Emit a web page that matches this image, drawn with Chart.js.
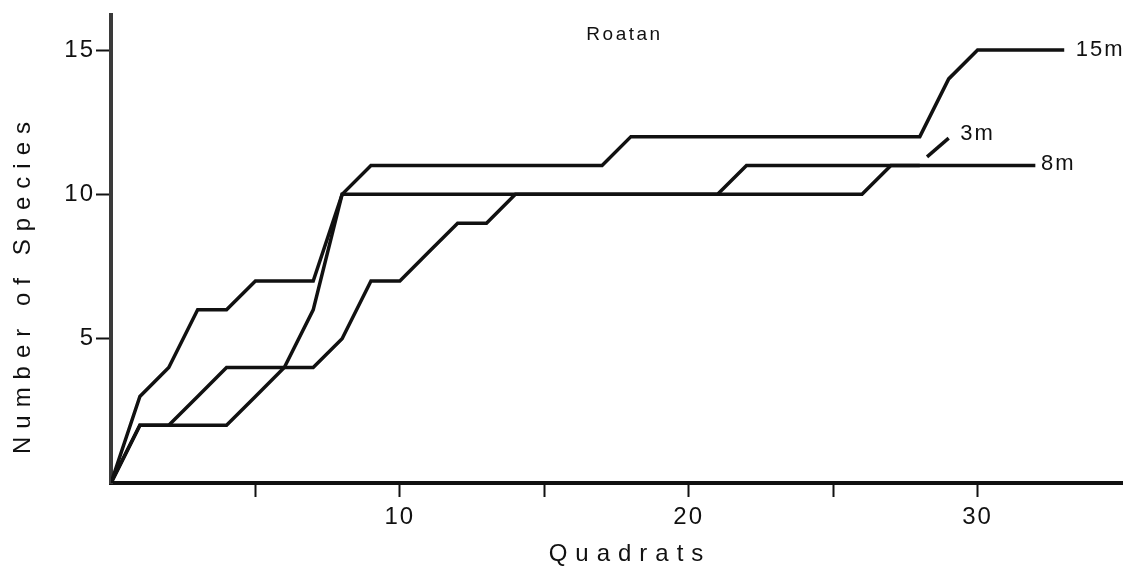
<!DOCTYPE html>
<html>
<head>
<meta charset="utf-8">
<script src="https://cdn.jsdelivr.net/npm/chart.js@4.4.1/dist/chart.umd.min.js"></script>
<style>
  html, body { margin: 0; padding: 0; background: #fff; }
  #wrap { width: 1144px; height: 572px; }
</style>
</head>
<body>
<div id="wrap"><canvas id="speciesChart"></canvas></div>
<script>
// quadrat number and cumulative species count
const quadrats = [0,1,2,3,4,5,6,7,8,9,10,11,12,13,14,15,16,17,18,19,20,21,22,23,24,25,26,27,28,29,30,31,32,33];
const species15m = [0,3,4,6,6,7,7,7,10,11,11,11,11,11,11,11,11,11,12,12,12,12,12,12,12,12,12,12,12,14,15,15,15,15];
const species8m  = [0,2,2,2,2,3,4,6,10,10,10,10,10,10,10,10,10,10,10,10,10,10,11,11,11,11,11,11,11,11,11,11,11,null];
const species3m  = [0,2,2,3,4,4,4,4,5,7,7,8,9,9,10,10,10,10,10,10,10,10,10,10,10,10,10,11,11,null,null,null,null,null];

const seriesLabels = ["15m", "8m", "3m"];
const labelAt = [[33.4, 15], [32.2, 11.05], [29.4, 12.1]];   // where each series name sits
const leaderX = [28.25, 29.0];  // short pointer line for "3m"
const leaderY = [11.3, 11.95];

const xTickLabels = [10, 20, 30];
const yTickLabels = [5, 10, 15];

const ink = "#111";
const fontFam = "'Liberation Sans', Arial, sans-serif";

function toPoints(ys) {
  const pts = [];
  ys.forEach((y, i) => { if (y !== null) pts.push({ x: quadrats[i], y: y }); });
  return pts;
}

const lineStyle = { borderColor: ink, borderWidth: 3.5, pointRadius: 0, tension: 0, fill: false };

const textPlugin = {
  id: "textPlugin",
  beforeDraw(chart) {
    chart.ctx.letterSpacing = "2px";
  },
  afterDatasetsDraw(chart) {
    const ctx = chart.ctx;
    const xs = chart.scales.x, ys = chart.scales.y;
    const area = chart.chartArea;
    ctx.save();
    ctx.fillStyle = ink;
    ctx.textBaseline = "middle";

    // series names
    ctx.font = "22px " + fontFam;
    ctx.letterSpacing = "2px";
    ctx.textAlign = "left";
    seriesLabels.forEach((s, i) => {
      ctx.fillText(s, xs.getPixelForValue(labelAt[i][0]), ys.getPixelForValue(labelAt[i][1]));
    });

    // panel title
    ctx.font = "19px " + fontFam;
    ctx.letterSpacing = "2.5px";
    ctx.textAlign = "center";
    ctx.fillText("Roatan", (area.left + area.right) / 2 + 8, area.top + 19);

    // axis titles
    ctx.font = "24px " + fontFam;
    ctx.letterSpacing = "8px";
    ctx.fillText("Quadrats", 630, 554);
    ctx.translate(23, 284);
    ctx.rotate(-Math.PI / 2);
    ctx.fillText("Number of Species", 0, 0);
    ctx.restore();
  }
};

new Chart(document.getElementById("speciesChart"), {
  type: "line",
  data: {
    datasets: [
      { label: "15m", data: toPoints(species15m), ...lineStyle },
      { label: "8m", data: toPoints(species8m), ...lineStyle },
      { label: "3m", data: toPoints(species3m), ...lineStyle },
      { label: "pointer", data: leaderX.map((x, i) => ({ x: x, y: leaderY[i] })), ...lineStyle }
    ]
  },
  options: {
    responsive: true,
    maintainAspectRatio: false,
    animation: false,
    layout: { padding: { left: 0, right: 22, top: 13, bottom: 0 } },
    plugins: { legend: { display: false }, tooltip: { enabled: false } },
    scales: {
      x: {
        type: "linear",
        min: 0,
        max: 35,
        afterFit(scale) { scale.height = 89; },
        afterBuildTicks(axis) { axis.ticks = axis.ticks.filter(t => t.value > 0 && t.value < 35); },
        border: { display: true, width: 4, color: ink },
        grid: { drawOnChartArea: false, drawTicks: true, tickLength: 14, tickWidth: 2, tickColor: ink },
        ticks: {
          stepSize: 5,
          autoSkip: false,
          maxRotation: 0,
          padding: 6,
          color: ink,
          font: { family: fontFam, size: 24 },
          callback: v => xTickLabels.includes(v) ? String(v) : ""
        }
      },
      y: {
        min: 0,
        max: 16.2,
        afterFit(scale) { scale.width = 111; },
        afterBuildTicks(axis) { axis.ticks = axis.ticks.filter(t => yTickLabels.includes(t.value)); },
        border: { display: true, width: 4, color: "#3a3a3a" },
        grid: { drawOnChartArea: false, drawTicks: true, tickLength: 15, tickWidth: 2, tickColor: ink },
        ticks: {
          stepSize: 5,
          padding: 1,
          color: ink,
          font: { family: fontFam, size: 24 },
          callback: v => String(v)
        }
      }
    }
  },
  plugins: [textPlugin]
});
</script>
</body>
</html>
